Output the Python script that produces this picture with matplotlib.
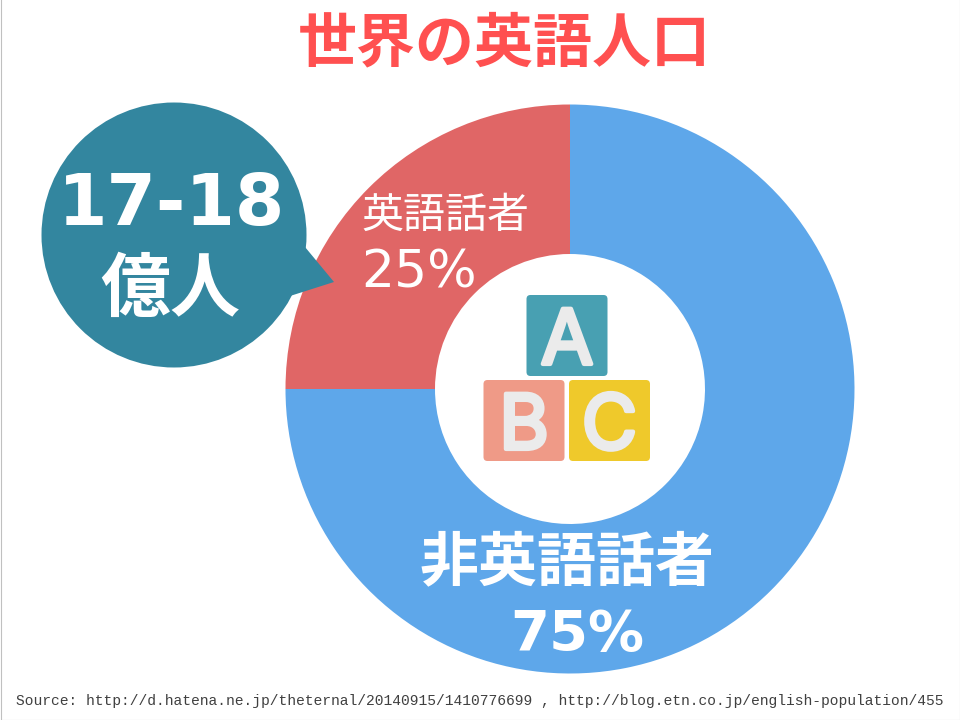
import matplotlib
matplotlib.use('Agg')
import matplotlib.pyplot as plt
import matplotlib.patheffects as pe
from matplotlib.patches import Circle, FancyBboxPatch, Polygon, Rectangle

JP = 'Noto Sans CJK JP'
LATIN = 'DejaVu Sans'
plt.rcParams['font.family'] = [JP, 'DejaVu Sans']

TITLE = '世界の英語人口'
SOURCE = 'Source: http://d.hatena.ne.jp/theternal/20140915/1410776699 , http://blog.etn.co.jp/english-population/455'

labels = ['英語話者', '非英語話者']
values = [25, 75]
colors = ['#e06666', '#5ea7ea']

BUBBLE_COLOR = '#33869f'
bubble_lines = ['17-18', '億人']

block_letters = ['A', 'B', 'C']
block_colors = ['#48a0b2', '#ef9a87', '#efc92b']
block_corners = [(526.5, 295), (483.5, 380), (569, 380)]
BLOCK_SIZE = 81


def px(size):
    # font size in points from a height in pixels at dpi 100
    return size * 0.72


def main():
    fig = plt.figure(figsize=(9.6, 7.2), dpi=100, facecolor='white')
    ax = fig.add_axes([0, 0, 1, 1])

    # the y axis is flipped below, so the pie runs clockwise in data terms
    ax.pie(values, colors=colors, startangle=270, counterclock=False,
           center=(570, 389), radius=284.5,
           wedgeprops={'width': 149.5, 'linewidth': 0}, frame=True)
    ax.set_aspect('equal')
    ax.set_xlim(0, 960)
    ax.set_ylim(720, 0)
    ax.axis('off')

    # frame of the slide
    ax.add_patch(Rectangle((0.5, -2), 959, 721.5, fill=False, ec='#c0c0c0', lw=0.8))

    # speech bubble
    ax.add_patch(Circle((174, 235), 132.5, fc=BUBBLE_COLOR, ec='none', zorder=3))
    ax.add_patch(Polygon([(305, 247), (334, 282), (290, 296)], fc=BUBBLE_COLOR, ec='none', zorder=3))
    ax.text(172, 205, bubble_lines[0], color='white', fontsize=px(71), family=LATIN,
            weight='bold', ha='center', va='center', zorder=4)
    ax.text(170, 291, bubble_lines[1], color='white', fontsize=px(70), weight='bold',
            ha='center', va='center', zorder=4)

    # alphabet blocks in the hole, letters with a stroke for the rounded ends
    round_stroke = [pe.Stroke(linewidth=3, foreground='#ebebeb', joinstyle='round', capstyle='round'),
                    pe.Normal()]
    for letter, color, (x, y) in zip(block_letters, block_colors, block_corners):
        ax.add_patch(FancyBboxPatch((x + 3, y + 3), BLOCK_SIZE - 6, BLOCK_SIZE - 6,
                                    boxstyle='round,pad=3,rounding_size=4',
                                    fc=color, ec='none', zorder=3))
        ax.text(x + BLOCK_SIZE / 2, y + BLOCK_SIZE / 2 + 1, letter, color='#ebebeb',
                fontsize=px(76), family='Inter', weight='normal',
                ha='center', va='center_baseline', zorder=4, path_effects=round_stroke)

    # slice labels
    ax.text(445, 216, labels[0], color='white', fontsize=px(42), ha='center', va='center', zorder=4)
    ax.text(419, 274, f'{values[0]}%', color='white', fontsize=px(52), family=LATIN,
            ha='center', va='center', zorder=4)
    ax.text(566.5, 563, labels[1], color='white', fontsize=px(59), weight='bold',
            ha='center', va='center', zorder=4)
    ax.text(577, 635, f'{values[1]}%', color='white', fontsize=px(56), family=LATIN,
            weight='bold', ha='center', va='center', zorder=4)

    ax.text(504, 44, TITLE, color='#ff5050', fontsize=px(59), weight='bold',
            ha='center', va='center', zorder=4)
    ax.text(16, 701, SOURCE, color='#404040', fontsize=px(14.65), family='Liberation Mono',
            ha='left', va='center', zorder=4)

    fig.savefig('out.png', dpi=100)


if __name__ == '__main__':
    main()
